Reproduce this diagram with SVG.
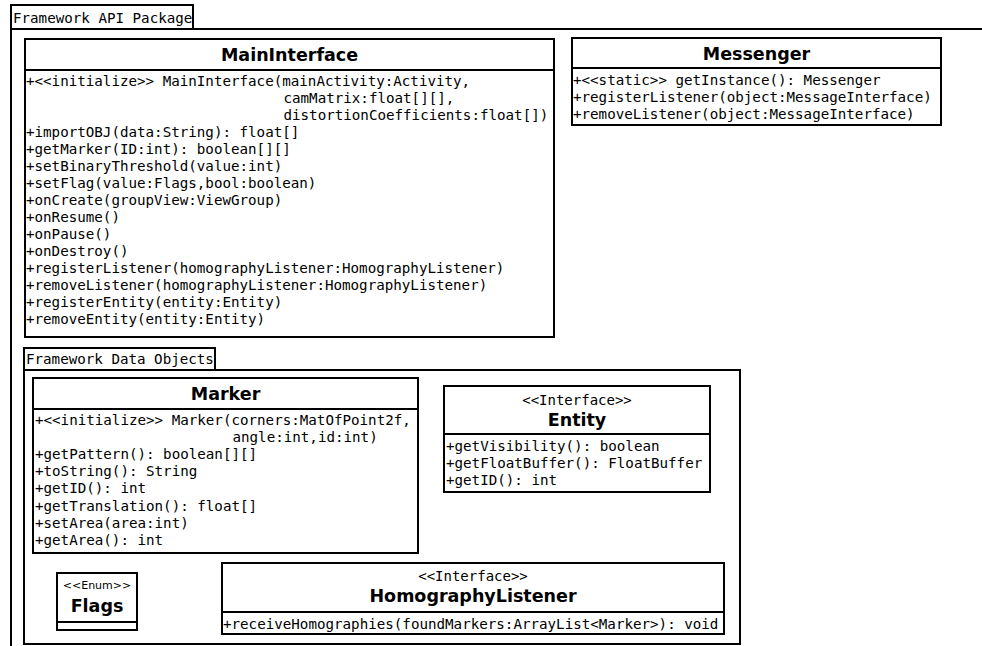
<svg xmlns="http://www.w3.org/2000/svg" width="982" height="646" viewBox="0 0 982 646">
<style>
.frame{fill:#fff;stroke:#000;stroke-width:2}
.pkg{fill:none;stroke:#000;stroke-width:2}
.sep{stroke:#000;stroke-width:2}
.m{font-family:"DejaVu Sans Mono","Liberation Mono",monospace;font-size:14.2px;fill:#000}
.t{font-family:"DejaVu Sans","Liberation Sans",sans-serif;font-size:17.5px;font-weight:bold;fill:#000;text-anchor:middle}
.st{font-family:"DejaVu Sans Mono","Liberation Mono",monospace;font-size:14px;fill:#000;text-anchor:middle}
.se{font-family:"DejaVu Sans","Liberation Sans",sans-serif;font-size:11px;fill:#000;text-anchor:middle}
</style>
<rect width="982" height="646" fill="#fff"/>
<g id="pkg-api">
<rect class="frame" x="11" y="5" width="182" height="24"/>
<path class="pkg" d="M11 29H984M11 29V648" stroke-width="2.5"/>
<text class="m" x="13" y="22.5">Framework API Package</text>
</g>
<g id="MainInterface">
<rect class="frame" x="25" y="39" width="529" height="298"/>
<line class="sep" x1="25" y1="70" x2="554" y2="70"/>
<text class="t" x="289.5" y="61">MainInterface</text>
<text class="m" x="26" y="86">+&lt;&lt;initialize&gt;&gt; MainInterface(mainActivity:Activity,</text>
<text class="m" x="283.5" y="103">camMatrix:float[][],</text>
<text class="m" x="283.5" y="120">distortionCoefficients:float[])</text>
<text class="m" x="26" y="137">+importOBJ(data:String): float[]</text>
<text class="m" x="26" y="154">+getMarker(ID:int): boolean[][]</text>
<text class="m" x="26" y="171">+setBinaryThreshold(value:int)</text>
<text class="m" x="26" y="188">+setFlag(value:Flags,bool:boolean)</text>
<text class="m" x="26" y="205">+onCreate(groupView:ViewGroup)</text>
<text class="m" x="26" y="222">+onResume()</text>
<text class="m" x="26" y="239">+onPause()</text>
<text class="m" x="26" y="256">+onDestroy()</text>
<text class="m" x="26" y="273">+registerListener(homographyListener:HomographyListener)</text>
<text class="m" x="26" y="290">+removeListener(homographyListener:HomographyListener)</text>
<text class="m" x="26" y="307">+registerEntity(entity:Entity)</text>
<text class="m" x="26" y="324">+removeEntity(entity:Entity)</text>
</g>
<g id="Messenger">
<rect class="frame" x="572" y="38" width="369" height="87"/>
<line class="sep" x1="572" y1="68" x2="941" y2="68"/>
<text class="t" x="756.5" y="59.5">Messenger</text>
<text class="m" x="573" y="85">+&lt;&lt;static&gt;&gt; getInstance(): Messenger</text>
<text class="m" x="573" y="102">+registerListener(object:MessageInterface)</text>
<text class="m" x="573" y="119">+removeListener(object:MessageInterface)</text>
</g>
<g id="pkg-data">
<rect class="frame" x="24" y="348" width="191" height="22"/>
<rect class="pkg" x="24" y="370" width="716" height="274"/>
<text class="m" x="26" y="364">Framework Data Objects</text>
</g>
<g id="Marker">
<rect class="frame" x="33" y="378" width="385" height="175"/>
<line class="sep" x1="33" y1="409" x2="418" y2="409"/>
<text class="t" x="225.5" y="400">Marker</text>
<text class="m" x="35" y="424.5">+&lt;&lt;initialize&gt;&gt; Marker(corners:MatOfPoint2f,</text>
<text class="m" x="232.5" y="441.7">angle:int,id:int)</text>
<text class="m" x="35" y="458.9">+getPattern(): boolean[][]</text>
<text class="m" x="35" y="476.1">+toString(): String</text>
<text class="m" x="35" y="493.3">+getID(): int</text>
<text class="m" x="35" y="510.5">+getTranslation(): float[]</text>
<text class="m" x="35" y="527.7">+setArea(area:int)</text>
<text class="m" x="35" y="544.9">+getArea(): int</text>
</g>
<g id="Entity">
<rect class="frame" x="444" y="386" width="266" height="106"/>
<line class="sep" x1="444" y1="434" x2="710" y2="434"/>
<text class="st" x="577" y="405">&lt;&lt;Interface&gt;&gt;</text>
<text class="t" x="577" y="425.5">Entity</text>
<text class="m" x="446" y="451">+getVisibility(): boolean</text>
<text class="m" x="446" y="468">+getFloatBuffer(): FloatBuffer</text>
<text class="m" x="446" y="485">+getID(): int</text>
</g>
<g id="Flags">
<rect class="frame" x="57" y="573" width="80" height="57"/>
<line class="sep" x1="57" y1="622" x2="137" y2="622"/>
<text class="se" x="97" y="589">&lt;&lt;Enum&gt;&gt;</text>
<text class="t" x="97" y="612">Flags</text>
</g>
<g id="HomographyListener">
<rect class="frame" x="222" y="563" width="502" height="71"/>
<line class="sep" x1="222" y1="612" x2="724" y2="612"/>
<text class="st" x="473" y="581">&lt;&lt;Interface&gt;&gt;</text>
<text class="t" x="473" y="602">HomographyListener</text>
<text class="m" x="223" y="628.5">+receiveHomographies(foundMarkers:ArrayList&lt;Marker&gt;): void</text>
</g>
<g id="connectors"/>
</svg>
